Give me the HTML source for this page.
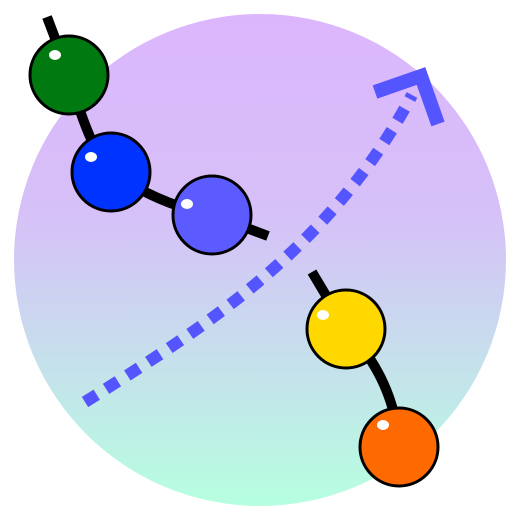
<!DOCTYPE html>
<html><head><meta charset="utf-8"><style>html,body{margin:0;padding:0;background:#fff}svg{display:block}</style></head>
<body>
<svg width="512" height="512" viewBox="0 0 512 512">
<defs>
<linearGradient id="bg" x1="0" y1="0" x2="0" y2="1">
<stop offset="0" stop-color="#dcb6fd"/><stop offset="0.4" stop-color="#d6c0f8"/><stop offset="1" stop-color="#b6ffe0"/>
</linearGradient>
</defs>
<circle cx="260" cy="260" r="246" fill="url(#bg)"/>
<path d="M85,402 C200,330 330,250 412,95" fill="none" stroke="#5555ff" stroke-width="12" stroke-dasharray="14,11"/>
<polyline points="375,92 421,76 438,124" fill="none" stroke="#5555ff" stroke-width="14"/>
<path d="M47,17 L69,75 Q90,150 111,172 Q160,205 212,215 L268,236" fill="none" stroke="#000" stroke-width="10"/>
<path d="M312,272 L346,329 Q395,380 399,447" fill="none" stroke="#000" stroke-width="10"/>
<g stroke="#000" stroke-width="3">
<circle cx="69" cy="75" r="39" fill="#007a10"/>
<circle cx="111" cy="172" r="39" fill="#0033ff"/>
<circle cx="212" cy="215" r="39" fill="#5b5bff"/>
<circle cx="346" cy="329" r="39" fill="#ffd800"/>
<circle cx="399" cy="447" r="39" fill="#ff6a00"/>
</g>
<g fill="#fff">
<ellipse cx="55" cy="55" rx="6" ry="5"/>
<ellipse cx="91" cy="157" rx="6" ry="5"/>
<ellipse cx="187" cy="204" rx="6" ry="5"/>
<ellipse cx="323" cy="315" rx="6" ry="5"/>
<ellipse cx="383" cy="425" rx="6" ry="5"/>
</g>
</svg>
</body></html>
